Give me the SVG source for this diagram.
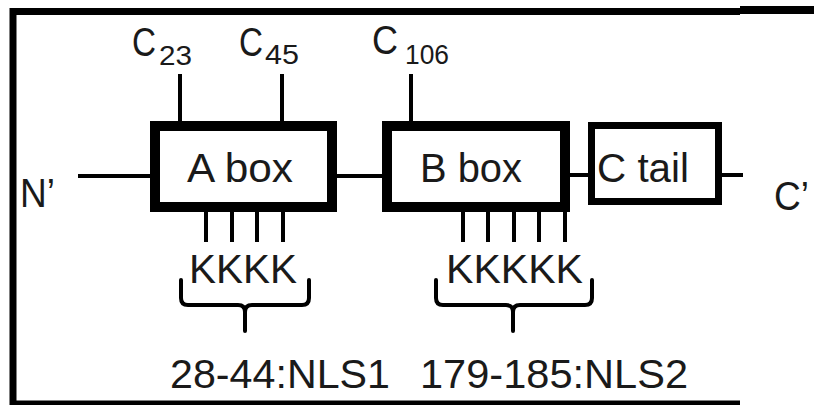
<svg xmlns="http://www.w3.org/2000/svg" width="814" height="405" viewBox="0 0 814 405">
<style>
text { font-family: "Liberation Sans", Arial, sans-serif; fill: #1a1a1a; }
.big { font-size: 41px; }
.sub { font-size: 28px; }
.lbl { font-size: 41px; }
.frame { stroke: #000; fill: none; }
.box { fill: #fff; stroke: #000; }
.ln { stroke: #000; stroke-width: 4; fill: none; }
.brace { stroke: #000; stroke-width: 4; fill: none; stroke-linecap: round; stroke-linejoin: round; }
</style>
<rect width="814" height="405" fill="#fff"/>
<g id="frame">
  <path class="frame" stroke-width="7" d="M13 405 V11.5 H740"/>
  <path class="frame" stroke-width="8" d="M740 10 H814"/>
  <path class="frame" stroke-width="5" d="M10 403 H740"/>
</g>
<g id="connectors">
  <line class="ln" x1="78" y1="176" x2="152" y2="176"/>
  <line class="ln" x1="335" y1="176" x2="384" y2="176"/>
  <line class="ln" x1="568" y1="175" x2="590" y2="175"/>
  <line class="ln" x1="720" y1="175" x2="743" y2="175"/>
  <line class="ln" x1="180" y1="74" x2="180" y2="124"/>
  <line class="ln" x1="282" y1="74" x2="282" y2="124"/>
  <line class="ln" x1="411" y1="74" x2="411" y2="124"/>
  <g id="ticksA">
    <line class="ln" x1="206" y1="205" x2="206" y2="242"/>
    <line class="ln" x1="232" y1="205" x2="232" y2="242"/>
    <line class="ln" x1="257" y1="205" x2="257" y2="242"/>
    <line class="ln" x1="283" y1="205" x2="283" y2="242"/>
  </g>
  <g id="ticksB">
    <line class="ln" x1="463" y1="205" x2="463" y2="242"/>
    <line class="ln" x1="488" y1="205" x2="488" y2="242"/>
    <line class="ln" x1="514" y1="205" x2="514" y2="242"/>
    <line class="ln" x1="539" y1="205" x2="539" y2="242"/>
    <line class="ln" x1="565" y1="205" x2="565" y2="242"/>
  </g>
  <path class="brace" d="M181 280 V298 Q181 305 188 305 H238 Q245 305 245 312 V331 M245 312 Q245 305 252 305 H302 Q309 305 309 298 V280"/>
  <path class="brace" d="M436 280 V298 Q436 305 443 305 H506 Q513 305 513 312 V331 M513 312 Q513 305 520 305 H585 Q592 305 592 298 V280"/>
</g>
<g id="cys">
  <text class="big" x="132" y="56" textLength="24" lengthAdjust="spacingAndGlyphs">C</text>
  <text class="sub" x="159" y="65" textLength="33" lengthAdjust="spacingAndGlyphs">23</text>
  <text class="big" x="239" y="56" textLength="24" lengthAdjust="spacingAndGlyphs">C</text>
  <text class="sub" x="265" y="64" textLength="34" lengthAdjust="spacingAndGlyphs">45</text>
  <text class="big" x="372" y="54" textLength="26" lengthAdjust="spacingAndGlyphs">C</text>
  <text class="sub" x="405" y="64" textLength="44" lengthAdjust="spacingAndGlyphs">106</text>
</g>
<g id="nterm">
  <text class="lbl" x="20" y="207" textLength="35" lengthAdjust="spacingAndGlyphs">N’</text>
</g>
<g id="cterm">
  <text class="lbl" x="774" y="210" textLength="35" lengthAdjust="spacingAndGlyphs">C’</text>
</g>
<g id="boxA">
  <rect class="box" x="155" y="126" width="177" height="81" stroke-width="10"/>
  <text class="lbl" x="187" y="182" textLength="106" lengthAdjust="spacingAndGlyphs">A box</text>
</g>
<g id="boxB">
  <rect class="box" x="387" y="126" width="178" height="81" stroke-width="10"/>
  <text class="lbl" x="420" y="182" textLength="102" lengthAdjust="spacingAndGlyphs">B box</text>
</g>
<g id="ctail">
  <rect class="box" x="591.5" y="125.5" width="127" height="76" stroke-width="7"/>
  <text class="lbl" x="597" y="182" textLength="92" lengthAdjust="spacingAndGlyphs">C tail</text>
</g>
<g id="nls1">
  <text class="lbl" x="189" y="283" textLength="108" lengthAdjust="spacingAndGlyphs">KKKK</text>
  <text class="lbl" x="170" y="388" textLength="220" lengthAdjust="spacingAndGlyphs">28-44:NLS1</text>
</g>
<g id="nls2">
  <text class="lbl" x="446" y="283" textLength="137" lengthAdjust="spacingAndGlyphs">KKKKK</text>
  <text class="lbl" x="420" y="388" textLength="268" lengthAdjust="spacingAndGlyphs">179-185:NLS2</text>
</g>
</svg>
